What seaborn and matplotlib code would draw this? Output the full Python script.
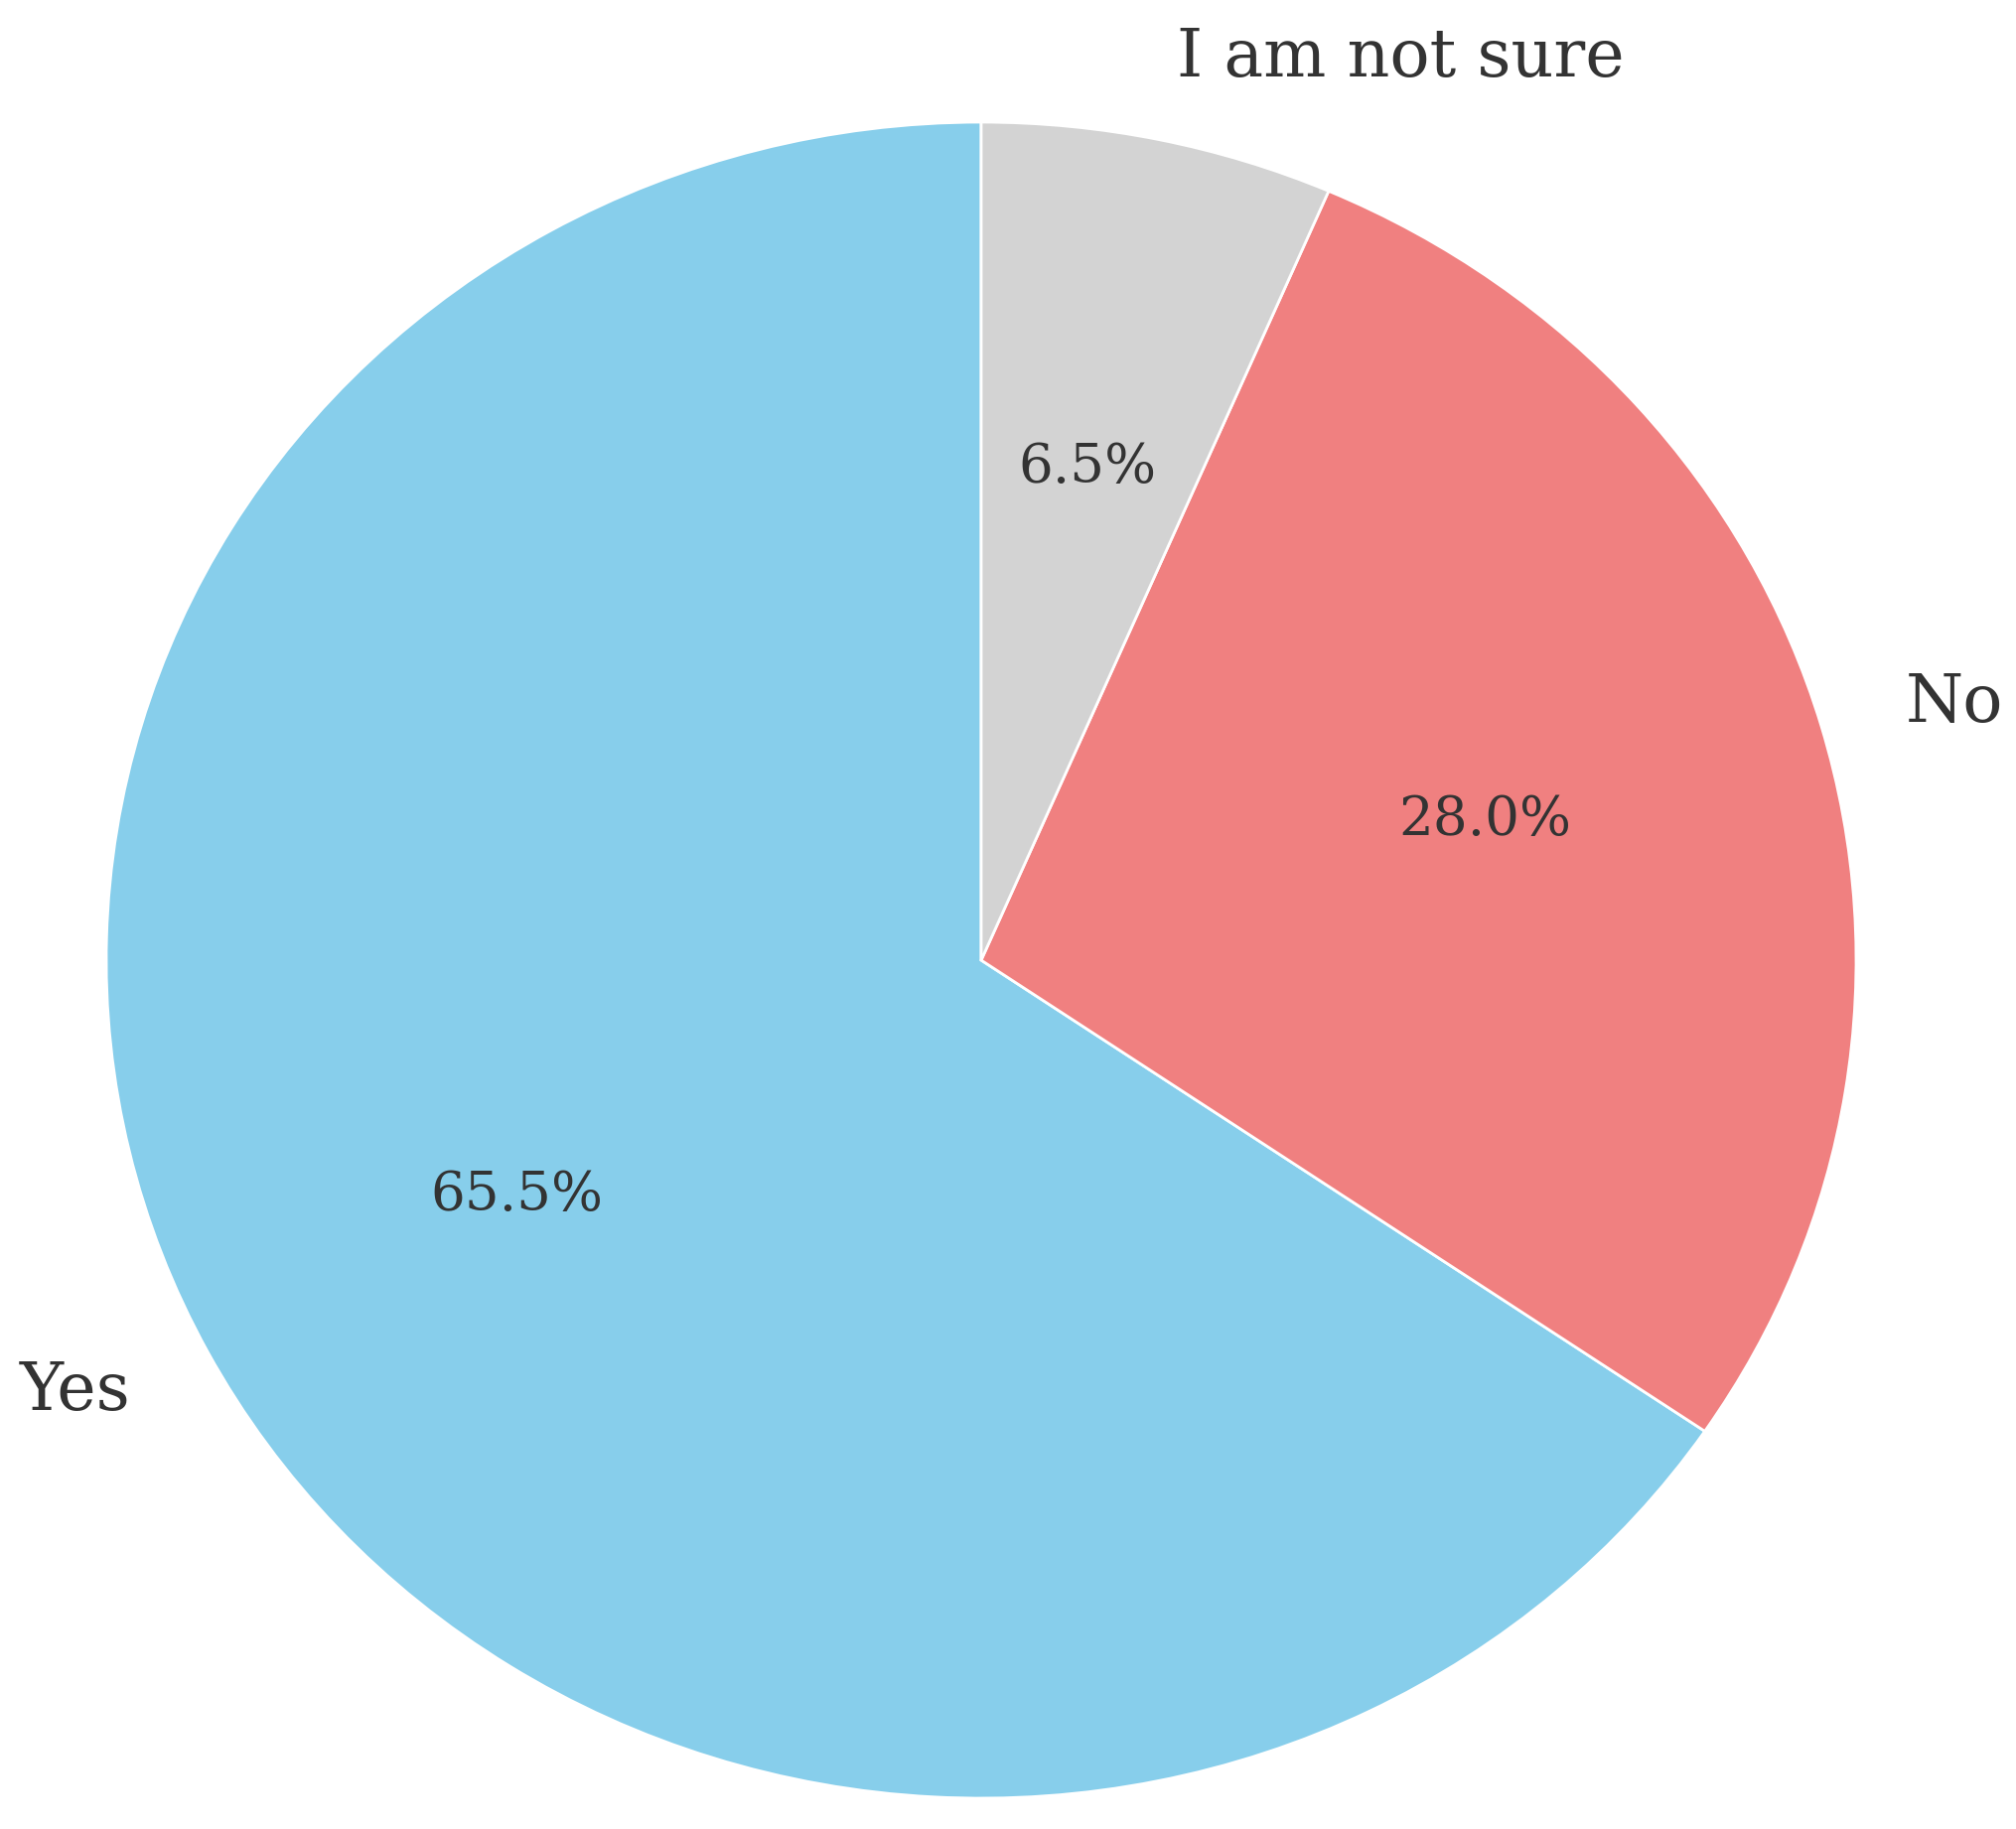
import matplotlib
matplotlib.use("Agg")
import matplotlib.pyplot as plt
import seaborn as sns

labels = ["Yes", "No", "I am not sure"]
shares = [65.5, 28.0, 6.5]
colors = ["skyblue", "lightcoral", "lightgray"]

sns.set_theme(style="white")
plt.rcParams['font.family'] = ['DejaVu Serif', 'DejaVu Sans']
plt.rcParams['text.color'] = '#333333'

fig = plt.figure(figsize=(2031 / 200, 1842 / 200), dpi=200)
ax = fig.add_axes([0, 0, 1, 1])
wedges, texts, autotexts = ax.pie(shares, labels=labels, colors=colors,
                                  autopct='%1.1f%%', startangle=90,
                                  textprops={'fontsize': 24})
for t in autotexts:
    t.set_fontsize(19.7)

# reference pie is slightly stretched sideways
ax.set_aspect('auto')
ax.set_xlim(-988 / 881, (2031 - 988) / 881)
ax.set_ylim(-(1842 - 967) / 844, 967 / 844)
ax.axis('off')

fig.savefig("out.png", dpi=200)
